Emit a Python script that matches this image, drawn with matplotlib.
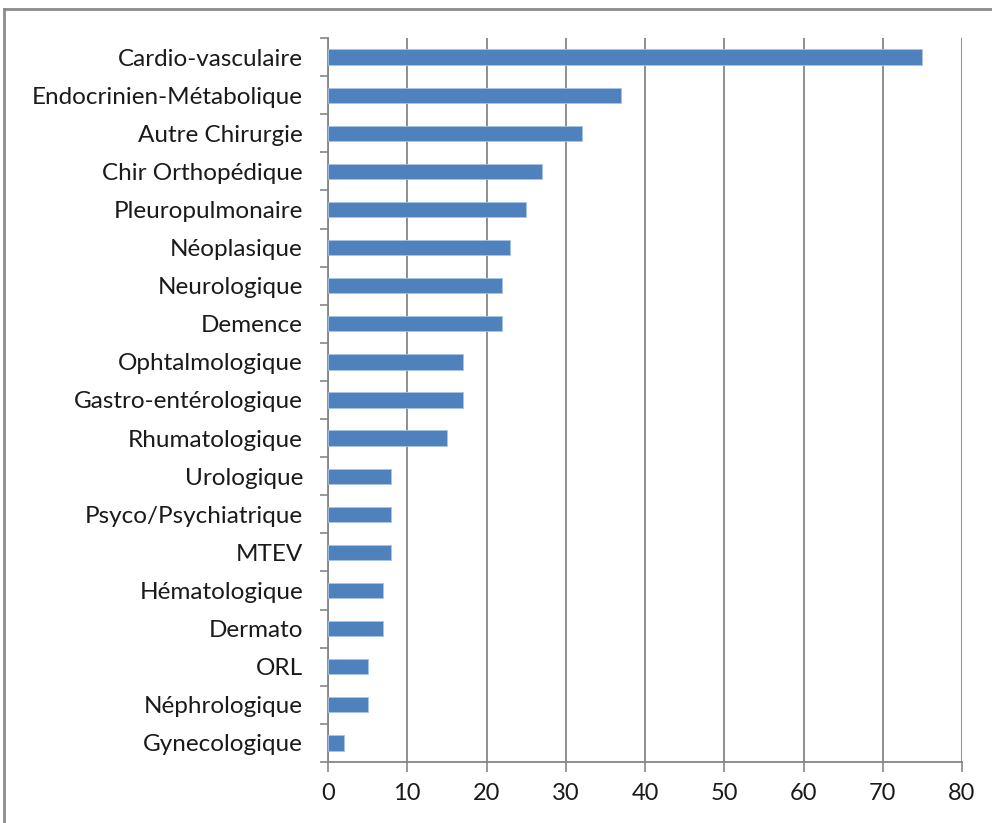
import matplotlib
matplotlib.use("Agg")
import matplotlib.pyplot as plt
from matplotlib.lines import Line2D
import numpy as np

categories = ["Cardio-vasculaire", "Endocrinien-Métabolique", "Autre Chirurgie",
              "Chir Orthopédique", "Pleuropulmonaire", "Néoplasique", "Neurologique",
              "Demence", "Ophtalmologique", "Gastro-entérologique", "Rhumatologique",
              "Urologique", "Psyco/Psychiatrique", "MTEV", "Hématologique", "Dermato",
              "ORL", "Néphrologique", "Gynecologique"]
values = [75, 37, 32, 27, 25, 23, 22, 22, 17, 17, 15, 8, 8, 8, 7, 7, 5, 5, 2]
xticks = [0, 10, 20, 30, 40, 50, 60, 70, 80]

plt.rcParams['font.family'] = ['Lato', 'DejaVu Sans']

W, H = 992, 823
fig = plt.figure(figsize=(W/100, H/100), dpi=100)
ax = fig.add_axes([328/W, 1-762/H, (962-328)/W, (762-38)/H])

n = len(categories)
pos = np.arange(n)[::-1]
ax.barh(pos, values, height=0.4, color="#4F81BD", edgecolor="#A7C4E6", linewidth=0.6, zorder=3)
ax.set_ylim(-0.5, n-0.5)
ax.set_xlim(0, 80)
ax.set_xticks(xticks)
ax.set_xticklabels([str(t) for t in xticks], fontsize=17, color="#1a1a1a")
ax.set_yticks(pos)
ax.set_yticklabels(categories, fontsize=17.5, color="#1a1a1a")
ax.tick_params(axis='y', which='major', length=0, pad=18)
ax.set_yticks(np.arange(n+1) - 0.5, minor=True)
ax.tick_params(axis='y', which='minor', length=6, color="#868686", width=1.2, direction='out')
ax.tick_params(axis='x', which='major', length=7, color="#868686", width=1.2, direction='out', pad=8)
ax.grid(axis='x', color="#868686", linewidth=1.3, zorder=0)
ax.set_axisbelow(True)
for s in ['top', 'right']:
    ax.spines[s].set_visible(False)
for s in ['left', 'bottom']:
    ax.spines[s].set_color("#868686")
    ax.spines[s].set_linewidth(1.3)

# outer frame
fig.add_artist(Line2D([4/W, 4/W], [0, 1-9/H], transform=fig.transFigure, color="#8c8c8c", linewidth=2))
fig.add_artist(Line2D([4/W, 1], [1-9/H, 1-9/H], transform=fig.transFigure, color="#8c8c8c", linewidth=2))

fig.savefig("out.png", dpi=100)
